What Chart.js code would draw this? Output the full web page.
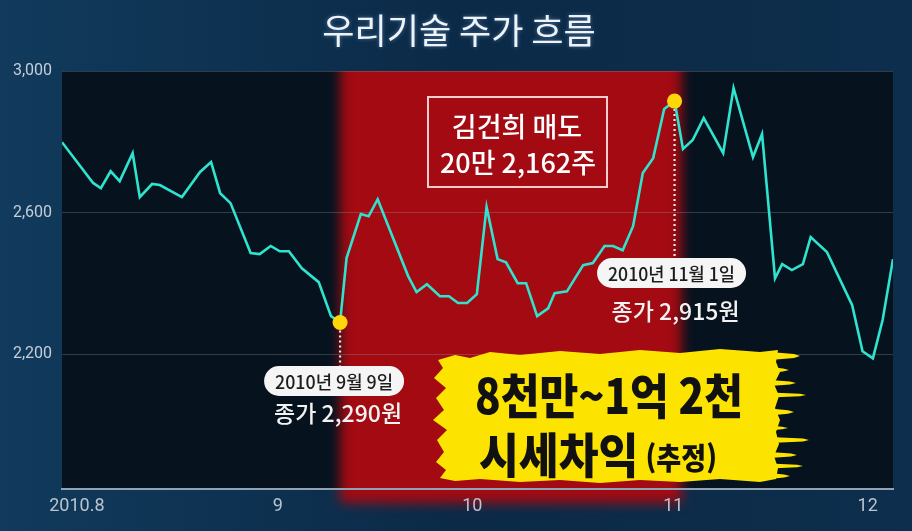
<!DOCTYPE html>
<html lang="ko">
<head>
<meta charset="UTF-8">
<title>우리기술 주가 흐름</title>
<script src="https://cdn.jsdelivr.net/npm/chart.js"></script>
<style>
  html, body { margin: 0; padding: 0; background: #0c2b48; }
  #wrap { width: 912px; height: 531px; }
</style>
</head>
<body>
<div id="wrap"><canvas id="chart" width="912" height="531"></canvas></div>
<script>
// days counted from 2010-08-01 (day 0)
const days = [-2.3, 2.5, 3.7, 5.2, 6.6, 8.6, 9.7, 11.6, 12.8, 16.2, 19.0, 20.7, 22.1, 23.7,
  26.8, 28.2, 29.9, 31.3, 32.7, 34.7, 37.3, 39.2, 40.6, 41.6, 43.8, 45.0, 46.4, 51.1,
  52.4, 54.0, 56.0, 57.4, 58.8, 60.2, 61.7, 63.2, 64.9, 66.2, 68.0, 69.3, 71.0, 72.7,
  73.7, 75.6, 78.1, 79.6, 81.4, 82.7, 84.2, 85.8, 87.3, 88.9, 90.6, 92.2, 93.5, 95.0,
  96.7, 99.7, 101.3, 104.3, 105.7, 107.7, 108.8, 110.3, 112.0, 113.2, 115.7, 119.6,
  121.2, 122.8, 124.3, 125.9];
const prices = [2799, 2684, 2669, 2717, 2689, 2768, 2644, 2681, 2678, 2644, 2715, 2743, 2655, 2627,
  2486, 2483, 2506, 2491, 2491, 2443, 2404, 2308, 2290, 2472, 2596, 2590, 2638, 2421,
  2376, 2398, 2364, 2364, 2345, 2345, 2370, 2616, 2469, 2460, 2401, 2401, 2308, 2330,
  2373, 2378, 2452, 2458, 2506, 2506, 2494, 2562, 2712, 2754, 2893, 2915, 2780, 2805,
  2867, 2768, 2952, 2757, 2822, 2415, 2455, 2438, 2455, 2531, 2489, 2339,
  2209, 2189, 2297, 2469];

const monthTicks = [0, 31, 61, 92, 122];
const monthLabels = ['2010.8', '9', '10', '11', '12'];
const priceTicks = [2200, 2600, 3000];
const priceMin = 1820;
const priceMax = 3000;

const marked = [2290, 2915];              // 9월 9일, 11월 1일 종가
const markDates = ['2010년 9월 9일', '2010년 11월 1일'];
const markCloses = ['종가 2,290원', '종가 2,915원'];
const titleText = '우리기술 주가 흐름';
const boxLines = ['김건희 매도', '20만 2,162주'];
const gainLines = ['8천만~1억 2천', '시세차익', '(추정)'];

const KR = '"Noto Sans CJK KR", "Noto Sans", sans-serif';

function markIndex(v) { return prices.indexOf(v); }

function fitText(ctx, text, cx, cy, font, maxW) {
  ctx.font = font;
  const w = ctx.measureText(text).width;
  const s = Math.min(1, maxW / w);
  ctx.save();
  ctx.translate(cx, cy);
  ctx.scale(s, 1);
  ctx.fillText(text, 0, 0);
  ctx.restore();
}

function roundRect(ctx, x, y, w, h, r) {
  ctx.beginPath();
  ctx.moveTo(x + r, y);
  ctx.arcTo(x + w, y, x + w, y + h, r);
  ctx.arcTo(x + w, y + h, x, y + h, r);
  ctx.arcTo(x, y + h, x, y, r);
  ctx.arcTo(x, y, x + w, y, r);
  ctx.closePath();
}

const backdrop = {
  id: 'backdrop',
  beforeDraw(chart) {
    const { ctx, chartArea: a, scales: { x } } = chart;
    ctx.save();
    const g = ctx.createLinearGradient(0, 0, chart.width, 0);
    g.addColorStop(0, '#113a5c');
    g.addColorStop(0.5, '#0b2a47');
    g.addColorStop(1, '#0d2e4c');
    ctx.fillStyle = g;
    ctx.fillRect(0, 0, chart.width, chart.height);
    ctx.fillStyle = '#06131f';
    ctx.fillRect(a.left, a.top, a.right - a.left, a.bottom - a.top);

    // red period between the two marked closes
    const x1 = x.getPixelForValue(days[markIndex(marked[0])]);
    const x2 = x.getPixelForValue(days[markIndex(marked[1])] + 1.1);
    ctx.beginPath();
    ctx.rect(a.left, a.top, a.right - a.left, chart.height - a.top);
    ctx.clip();
    ctx.filter = 'blur(6px)';
    ctx.fillStyle = '#a30a12';
    ctx.fillRect(x1, a.top - 20, x2 - x1, a.bottom - a.top + 34);
    ctx.restore();
  },
  beforeDatasetsDraw(chart) {
    const { ctx } = chart;
    const pts = chart.getDatasetMeta(0).data;
    const ends = [366, 258];
    ctx.save();
    ctx.strokeStyle = 'rgba(255,255,255,0.9)';
    ctx.lineWidth = 2.2;
    ctx.setLineDash([2, 3]);
    marked.forEach((v, k) => {
      const p = pts[markIndex(v)];
      ctx.beginPath();
      ctx.moveTo(p.x, p.y + 8);
      ctx.lineTo(p.x, ends[k]);
      ctx.stroke();
    });
    ctx.restore();
  }
};

const notes = {
  id: 'notes',
  afterDraw(chart) {
    const { ctx } = chart;
    const pts = chart.getDatasetMeta(0).data;
    ctx.save();
    ctx.textAlign = 'center';
    ctx.textBaseline = 'middle';

    // title
    ctx.fillStyle = '#eef3f8';
    ctx.shadowColor = 'rgba(160,200,255,0.45)';
    ctx.shadowBlur = 4;
    fitText(ctx, titleText, 459, 31, '400 35px ' + KR, 306);
    ctx.shadowBlur = 0;

    // date pills + closing prices
    const pillY = [366, 258];
    const pillW = [140, 149];
    const pillDx = [-6, -3];
    const closeY = [413, 311];
    marked.forEach((v, k) => {
      const p = pts[markIndex(v)];
      const cx = p.x + pillDx[k];
      ctx.fillStyle = '#f5f5f5';
      roundRect(ctx, cx - pillW[k] / 2, pillY[k], pillW[k], 30, 15);
      ctx.fill();
      ctx.fillStyle = '#1d1d1d';
      fitText(ctx, markDates[k], cx, pillY[k] + 16, '500 18px ' + KR, pillW[k] - 22);
      ctx.fillStyle = '#f2f2f2';
      fitText(ctx, markCloses[k], cx + 4, closeY[k], '500 23px ' + KR, 132);
    });

    // boxed note
    ctx.strokeStyle = 'rgba(255,225,225,0.9)';
    ctx.lineWidth = 2;
    ctx.strokeRect(428, 97, 179, 90);
    ctx.fillStyle = '#ffffff';
    fitText(ctx, boxLines[0], 517, 127, '500 27px ' + KR, 150);
    fitText(ctx, boxLines[1], 518, 163, '500 27px ' + KR, 158);

    // yellow brush stroke
    const brush = [
      [438,360],[455,355],[470,358],[490,352],[520,355],[560,351],[600,354],[640,350],[680,353],[720,349],[760,352],[778,350],
      [776,362],[780,372],[774,384],[779,396],[775,408],[780,420],[776,432],[779,444],[774,456],[778,468],[776,479],
      [760,482],[720,479],[680,482],[640,480],[600,483],[560,480],[520,482],[480,479],[455,481],[440,478],
      [446,470],[436,462],[444,452],[437,440],[447,430],[433,420],[444,410],[436,398],[446,388],[434,378],[443,368]
    ];
    ctx.fillStyle = '#fde400';
    ctx.beginPath();
    brush.forEach(([bx, by], i) => (i ? ctx.lineTo(bx, by) : ctx.moveTo(bx, by)));
    ctx.closePath();
    ctx.fill();
    // brush bristle streaks on the right edge: [y, end x, half thickness]
    [[356, 800, 4], [370, 789, 3], [383, 796, 3], [395, 806, 2.5], [412, 794, 3.5],
     [428, 788, 2.5], [440, 809, 3], [455, 797, 3], [466, 803, 2.5], [476, 790, 3]].forEach(([sy, ex, h]) => {
      ctx.beginPath();
      ctx.moveTo(770, sy - h);
      ctx.lineTo(ex - 6, sy - h * 0.5);
      ctx.lineTo(ex, sy);
      ctx.lineTo(ex - 6, sy + h * 0.5);
      ctx.lineTo(770, sy + h);
      ctx.closePath();
      ctx.fill();
    });

    ctx.fillStyle = '#111111';
    fitText(ctx, gainLines[0], 609, 396, '900 48px ' + KR, 268);
    // second line: big + small
    ctx.textAlign = 'left';
    ctx.font = '900 48px ' + KR;
    const wBig = ctx.measureText(gainLines[1]).width;
    ctx.font = '900 30px ' + KR;
    const wSmall = ctx.measureText(gainLines[2]).width;
    const s = 238 / (wBig + 8 + wSmall);
    ctx.save();
    ctx.translate(479, 455);
    ctx.scale(s, 1);
    ctx.font = '900 48px ' + KR;
    ctx.fillText(gainLines[1], 0, 0);
    ctx.font = '900 30px ' + KR;
    ctx.fillText(gainLines[2], wBig + 8, 3);
    ctx.restore();

    ctx.restore();
  }
};

new Chart(document.getElementById('chart'), {
  type: 'line',
  data: {
    datasets: [{
      data: days.map((d, i) => ({ x: d, y: prices[i] })),
      borderColor: '#2fe3cf',
      borderWidth: 2.6,
      tension: 0,
      pointRadius: c => (marked.includes(prices[c.dataIndex]) ? 7.5 : 0),
      pointHoverRadius: 0,
      pointBackgroundColor: '#ffd60a',
      pointBorderWidth: 0
    }]
  },
  options: {
    responsive: false,
    animation: false,
    layout: { padding: { top: 71, right: 19, bottom: 0, left: 0 } },
    plugins: { legend: { display: false }, tooltip: { enabled: false } },
    scales: {
      x: {
        type: 'linear',
        min: days[0],
        max: days[days.length - 1],
        afterFit: s => { s.height = 42; },
        afterBuildTicks: s => { s.ticks = monthTicks.map(v => ({ value: v })); },
        grid: { display: false, drawTicks: false },
        border: { display: true, color: '#8fa3b5', width: 2 },
        ticks: {
          padding: 7,
          color: '#b9c4cf',
          font: { family: 'Roboto', size: 18 },
          autoSkip: false,
          maxRotation: 0,
          callback: (v, i) => monthLabels[i]
        }
      },
      y: {
        min: priceMin,
        max: priceMax,
        afterFit: s => { s.width = 62; },
        afterBuildTicks: s => { s.ticks = priceTicks.map(v => ({ value: v })); },
        grid: { color: 'rgba(150,170,190,0.28)', lineWidth: 1, drawTicks: false },
        border: { display: false },
        ticks: {
          padding: 10,
          color: '#c5ced8',
          font: { family: 'Roboto', size: 16 },
          callback: v => v.toLocaleString('en-US')
        }
      }
    }
  },
  plugins: [backdrop, notes]
});
</script>
</body>
</html>
